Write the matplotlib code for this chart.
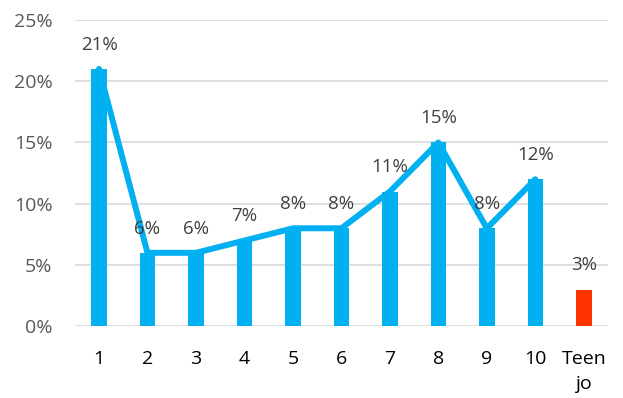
import matplotlib.pyplot as plt
from matplotlib.ticker import PercentFormatter

plt.rcParams['font.family'] = ['Open Sans', 'DejaVu Sans']

# share of respondents per rating, plus the "don't know" group
categories = ['1', '2', '3', '4', '5', '6', '7', '8', '9', '10', 'Teen\njo']
values = [0.21, 0.06, 0.06, 0.07, 0.08, 0.08, 0.11, 0.15, 0.08, 0.12, 0.03]

blue = '#00B0F0'
red = '#FF3300'

fig, ax = plt.subplots(figsize=(6.23, 3.98), dpi=100)
fig.subplots_adjust(left=0.12, right=0.976, top=0.95, bottom=0.18)

x = list(range(len(categories)))
colors = [blue] * 10 + [red]
ax.bar(x, values, width=0.32, color=colors, zorder=3)

# trend line over the ten ratings
ax.plot(x[:10], values[:10], color=blue, linewidth=4.3,
        solid_joinstyle='round', solid_capstyle='round', zorder=4)

for xi, v in zip(x, values):
    ax.annotate(f'{v * 100:.0f}%', (xi, v), xytext=(0, 11),
                textcoords='offset points', ha='center', va='bottom',
                fontsize=13.5, color='#404040', zorder=5)

ax.set_ylim(0, 0.25)
ax.set_xlim(-0.5, len(categories) - 0.5)
ax.set_yticks([0, 0.05, 0.10, 0.15, 0.20, 0.25])
ax.yaxis.set_major_formatter(PercentFormatter(1.0, decimals=0))
ax.set_xticks(x)
ax.set_xticklabels(categories, linespacing=1.5)

ax.grid(axis='y', color='#D9D9D9', linewidth=1.2, zorder=0)
for side in ['top', 'right', 'left', 'bottom']:
    ax.spines[side].set_visible(False)
ax.tick_params(axis='both', length=0, labelsize=14)
ax.tick_params(axis='y', colors='#595959', pad=16)
ax.tick_params(axis='x', colors='#000000', pad=17)

fig.savefig('out.png', dpi=100)
